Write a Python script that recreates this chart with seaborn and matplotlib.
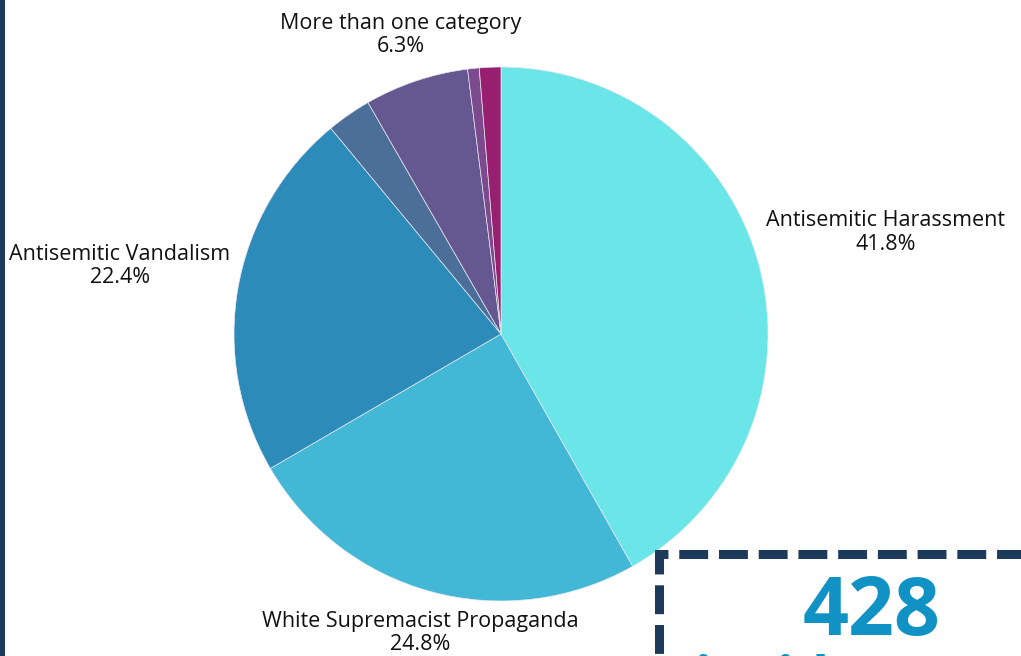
import matplotlib.pyplot as plt
import seaborn as sns
import numpy as np
from matplotlib.patches import Rectangle

sns.set_theme(style='white')
plt.rcParams['font.family'] = ['Open Sans', 'DejaVu Sans']

# slices, clockwise from 12 o'clock
categories = ['Antisemitic Harassment', 'White Supremacist Propaganda', 'Antisemitic Vandalism',
              'Other', 'More than one category', 'Other (2)', 'Other (3)']
values = [41.8, 24.8, 22.4, 2.7, 6.3, 0.7, 1.3]
colors = ['#6ae5e8', '#42b8d6', '#2d8bba', '#4b6f99', '#655890', '#7e4a8e', '#981f6f']
show_label = [True, True, True, False, True, False, False]
# how far out each label sits (in radii)
label_dist = [1.49, 1.16, 1.45, 0, 1.18, 0, 0]

total_count = '428'

W, H = 1021, 656
fig = plt.figure(figsize=(W / 100, H / 100), dpi=100)
ax = fig.add_axes([0, 0, 1, 1])

cx, cy, r = 501, H - 334, 267
wedges, _ = ax.pie(values, colors=colors, startangle=90, counterclock=False,
                   center=(cx, cy), radius=r,
                   wedgeprops=dict(edgecolor='#e8e8f0', linewidth=0.5))

for w, name, v, show, d in zip(wedges, categories, values, show_label, label_dist):
    if not show:
        continue
    mid = np.deg2rad((w.theta1 + w.theta2) / 2)
    x = cx + d * r * np.cos(mid)
    y = cy + d * r * np.sin(mid)
    ax.text(x, y, f'{name}\n{v:.1f}%', ha='center', va='center', fontsize=15.5,
            color='#111111', linespacing=1.15)

# dark bar on the left edge
ax.add_patch(Rectangle((0, 0), 5, H, color='#1d3a5a', lw=0, zorder=5))

# dashed box with the total
box = Rectangle((659, -60), 420, H - 554 + 60, facecolor='white', edgecolor='#1d3a5a',
                linewidth=6.5, linestyle=(0, (3.2, 1.2)), zorder=4)
ax.add_patch(box)
ax.text(872, 21, total_count, ha='center', va='baseline', fontsize=58, fontweight='bold',
        color='#1192c4', zorder=6)
ax.text(695, -40, 'incidents total', ha='left', va='baseline', fontsize=40, fontweight='bold',
        color='#1192c4', zorder=6)

ax.set_xlim(0, W)
ax.set_ylim(0, H)
ax.set_aspect('equal')
ax.axis('off')

fig.savefig('out.png', dpi=100, facecolor='white')
